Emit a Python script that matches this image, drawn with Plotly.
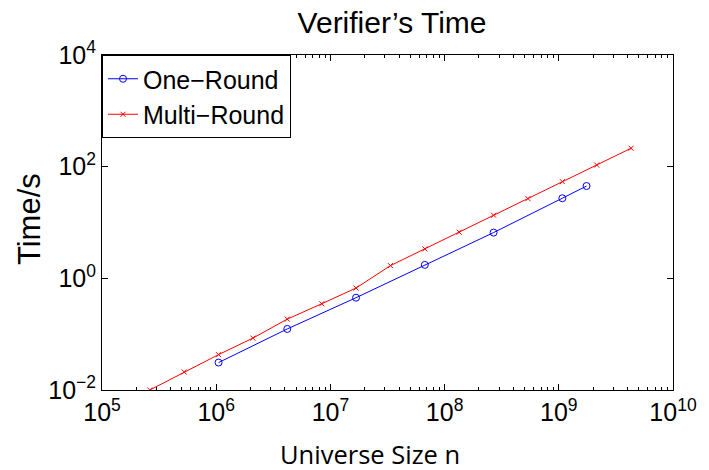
import plotly.graph_objects as go

# Data
red_n = [2**18, 2**19, 2**20, 2**21, 2**22, 2**23, 2**24, 2**25, 2**26, 2**27, 2**28, 2**29, 2**30, 2**31, 2**32]
red_t = [0.01, 0.021, 0.043, 0.085, 0.186, 0.35, 0.67, 1.69, 3.37, 6.7, 13.5, 26.8, 54, 107, 214]
blue_n = [2**20, 2**22, 2**24, 2**26, 2**28, 2**30, 1.75e9]
blue_t = [0.031, 0.124, 0.45, 1.74, 6.6, 27.2, 45]

x_tickvals = [1e5, 1e6, 1e7, 1e8, 1e9, 1e10]
x_ticktext = ["10<sup>5</sup>", "10<sup>6</sup>", "10<sup>7</sup>", "10<sup>8</sup>", "10<sup>9</sup>", "10<sup>10</sup>"]
y_tickvals = [1e-2, 1e0, 1e2, 1e4]
y_ticktext = ["10<sup>−2</sup>", "10<sup>0</sup>", "10<sup>2</sup>", "10<sup>4</sup>"]

fig = go.Figure()
fig.add_trace(go.Scatter(x=blue_n, y=blue_t, mode="lines+markers", name="One−Round",
                         line=dict(color="#0000ff", width=1),
                         marker=dict(symbol="circle-open", size=7, color="#0000ff", line=dict(width=1))))
fig.add_trace(go.Scatter(x=red_n, y=red_t, mode="lines+markers", name="Multi−Round",
                         line=dict(color="#ff0000", width=1),
                         marker=dict(symbol="x-thin-open", size=5, color="#ff0000", line=dict(width=1, color="#ff0000"))))

font = "Liberation Sans, Arial, Helvetica, sans-serif"
fig.update_layout(
    width=709, height=470,
    margin=dict(l=102, r=31, t=55, b=80),
    paper_bgcolor="white", plot_bgcolor="white",
    font=dict(family=font, color="black", size=25),
    title=dict(text="Verifier’s Time", x=0.553, xanchor="center", y=0.953, yanchor="middle",
               font=dict(family=font, size=30, color="black")),
    showlegend=True,
    legend=dict(x=0.0, y=1.0, xanchor="left", yanchor="top", bgcolor="white",
                bordercolor="black", borderwidth=1, font=dict(size=25, family=font),
                tracegroupgap=0, itemwidth=30),
    annotations=[
        dict(text="Universe Size n", xref="paper", yref="paper", x=0.47, y=-0.19,
             xanchor="center", yanchor="middle", showarrow=False,
             font=dict(family="Open Sans, sans-serif", size=25.5, color="black")),
        dict(text="Time/s", xref="paper", yref="paper", x=-0.128, y=0.51, textangle=-90,
             xanchor="center", yanchor="middle", showarrow=False,
             font=dict(family=font, size=31, color="black")),
    ],
)
fig.update_xaxes(type="log", range=[5, 10], tickvals=x_tickvals, ticktext=x_ticktext,
                 ticks="inside", ticklen=6, tickcolor="black", showline=True, linecolor="black",
                 linewidth=1, mirror="allticks", showgrid=False, zeroline=False,
                 tickfont=dict(size=25, family=font),
                 minor=dict(ticks="inside", ticklen=3, tickcolor="black", dtick="D1", showgrid=False))
fig.update_yaxes(type="log", range=[-2, 4], tickvals=y_tickvals, ticktext=y_ticktext,
                 ticks="inside", ticklen=6, tickcolor="black", showline=True, linecolor="black",
                 linewidth=1, mirror="allticks", showgrid=False, zeroline=False,
                 tickfont=dict(size=25, family=font))

fig.write_html("out.html")
